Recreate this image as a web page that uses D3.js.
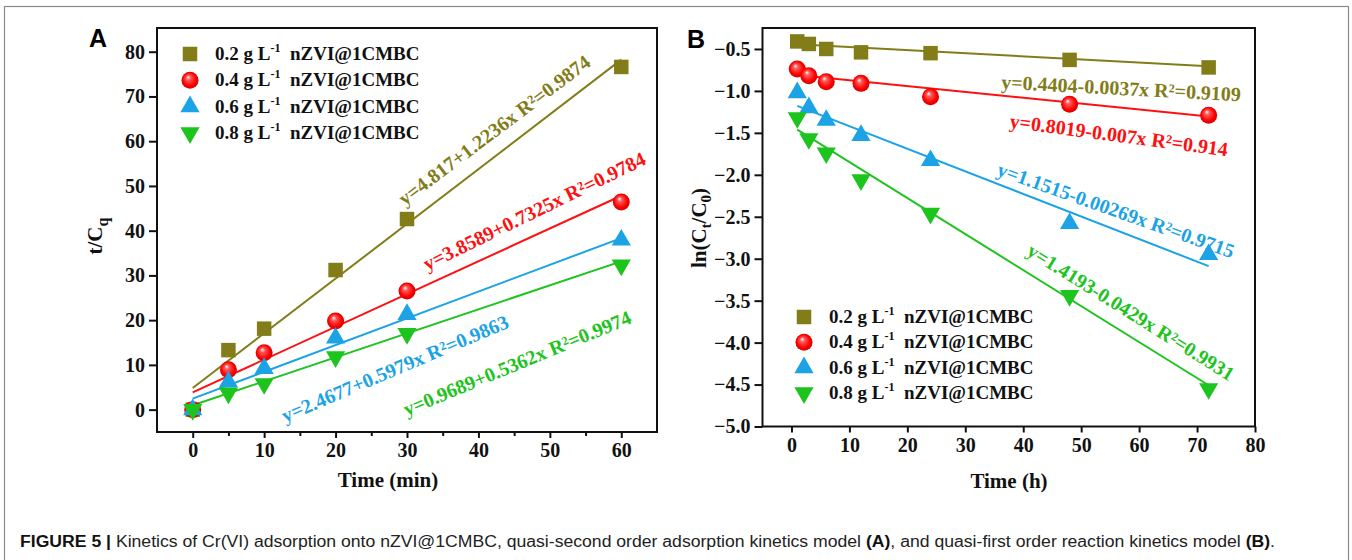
<!DOCTYPE html>
<html>
<head>
<meta charset="utf-8">
<script src="https://cdn.jsdelivr.net/npm/d3@7"></script>
<style>
  html, body { margin: 0; padding: 0; background: #fff; }
  svg { display: block; }
  .axis-title { font-family: "Liberation Serif", "Times New Roman", serif; font-weight: bold; font-size: 21px; fill: #111; }
  .legend-text { font-family: "Liberation Serif", "Times New Roman", serif; font-weight: bold; font-size: 19px; fill: #111; }
  .fit-text { font-family: "Liberation Serif", "Times New Roman", serif; font-weight: bold; font-size: 20px; }
  .panel-tag { font-family: "Liberation Sans", Arial, sans-serif; font-weight: bold; font-size: 25px; fill: #000; }
  .caption { font-family: "Liberation Sans", Arial, sans-serif; font-size: 16px; fill: #222; }
</style>
</head>
<body>
<svg id="fig" width="1352" height="560"></svg>
<script>
// ---- data ----
const doses = ["0.2", "0.4", "0.6", "0.8"];
const seriesColors = ["#827d18", "#ff1010", "#1ba3e6", "#1ec41e"];
const seriesShapes = ["square", "circle", "triangle", "triangleDown"];

// Panel A: pseudo-second-order, t/Cq vs time (min)
const timeA = [0, 5, 10, 20, 30, 60];
const tqA_02 = [0, 13.3, 18.1, 31.2, 42.6, 76.6];
const tqA_04 = [0, 8.9, 12.7, 19.8, 26.5, 46.4];
const tqA_06 = [0, 6.2, 9.2, 16.0, 21.3, 37.9];
const tqA_08 = [0, 3.7, 5.8, 11.8, 17.0, 32.3];
const fitA_intercept = [4.817, 3.8589, 2.4677, 0.9689];
const fitA_slope = [1.2236, 0.7325, 0.5979, 0.5362];
const fitA_labels = [
  "y=4.817+1.2236x R\u00B2=0.9874",
  "y=3.8589+0.7325x R\u00B2=0.9784",
  "y=2.4677+0.5979x R\u00B2=0.9863",
  "y=0.9689+0.5362x R\u00B2=0.9974"
];
const xTicksA = [0, 10, 20, 30, 40, 50, 60];
const xMinorA = [5, 15, 25, 35, 45, 55];
const yTicksA = [0, 10, 20, 30, 40, 50, 60, 70, 80];

// Panel B: pseudo-first-order, ln(Ct/C0) vs time (h)
const timeB = [1, 3, 6, 12, 24, 48, 72];
const lnB_02 = [-0.41, -0.44, -0.50, -0.54, -0.55, -0.63, -0.72];
const lnB_04 = [-0.74, -0.82, -0.89, -0.91, -1.07, -1.16, -1.29];
const lnB_06 = [-1.02, -1.20, -1.35, -1.53, -1.83, -2.58, -2.95];
const lnB_08 = [-1.32, -1.57, -1.74, -2.06, -2.46, -3.44, -4.55];
const fitB_intercept = [-0.4404, -0.8019, -1.1515, -1.4193];
const fitB_slope = [-0.0037, -0.007, -0.0269, -0.0429];
const fitB_labels = [
  "y=0.4404-0.0037x R\u00B2=0.9109",
  "y=0.8019-0.007x R\u00B2=0.914",
  "y=1.1515-0.00269x R\u00B2=0.9715",
  "y=1.4193-0.0429x R\u00B2=0.9931"
];
const xTicksB = [0, 10, 20, 30, 40, 50, 60, 70, 80];
const yTicksB = [-0.5, -1.0, -1.5, -2.0, -2.5, -3.0, -3.5, -4.0, -4.5, -5.0];

const seriesA = [tqA_02, tqA_04, tqA_06, tqA_08];
const seriesB = [lnB_02, lnB_04, lnB_06, lnB_08];

// ---- layout ----
const svg = d3.select("#fig");

// outer frame of the figure
svg.append("rect")
  .attr("x", 4.5).attr("y", 6.5).attr("width", 1344).attr("height", 570)
  .attr("fill", "none").attr("stroke", "#8a8a8a").attr("stroke-width", 1.2);

const defs = svg.append("defs");
const grad = defs.append("radialGradient").attr("id", "ballRed")
  .attr("cx", "0.5").attr("cy", "0.5").attr("r", "0.55")
  .attr("fx", "0.38").attr("fy", "0.3");
grad.append("stop").attr("offset", "0").attr("stop-color", "#ffffff");
grad.append("stop").attr("offset", "0.25").attr("stop-color", "#ff5a5a");
grad.append("stop").attr("offset", "0.7").attr("stop-color", "#ff0000");
grad.append("stop").attr("offset", "1").attr("stop-color", "#c40000");

function drawMarker(g, shape, color, x, y) {
  if (shape === "circle") {
    g.append("circle").attr("cx", x).attr("cy", y).attr("r", 8.5)
      .attr("fill", "url(#ballRed)");
    return;
  }
  let sym, size, rot = 0;
  if (shape === "square") { sym = d3.symbolSquare; size = 210; }
  else { sym = d3.symbolTriangle; size = 160; if (shape === "triangleDown") rot = 180; }
  g.append("path")
    .attr("d", d3.symbol().type(sym).size(size)())
    .attr("transform", `translate(${x},${y}) rotate(${rot})`)
    .attr("fill", color);
}

function frame(g, x0, y0, x1, y1) {
  g.append("rect").attr("x", x0).attr("y", y0)
    .attr("width", x1 - x0).attr("height", y1 - y0)
    .attr("fill", "none").attr("stroke", "#111").attr("stroke-width", 2);
}

function styleAxis(sel) {
  sel.attr("font-size", 20)
     .attr("font-family", "'Liberation Serif', 'Times New Roman', serif")
     .attr("font-weight", "bold");
  sel.select(".domain").remove();
  sel.selectAll(".tick line").attr("stroke", "#111").attr("stroke-width", 2);
  sel.selectAll(".tick text").attr("fill", "#111");
}

function legend(g, x, y, gap) {
  doses.forEach((d, i) => {
    const cy = y + i * gap;
    drawMarker(g, seriesShapes[i], seriesColors[i], x, cy);
    const t = g.append("text").attr("class", "legend-text")
      .attr("x", x + 25).attr("y", cy + 6);
    t.append("tspan").text(d + " g L");
    t.append("tspan").attr("font-size", 12).attr("dy", -8).text("-1");
    t.append("tspan").attr("dy", 8).text("\u00A0\u00A0nZVI@1CMBC");
  });
}

// ================= Panel A =================
const A = { x0: 157, x1: 657, y0: 28, y1: 432 };
const xA = d3.scaleLinear().domain([-5, 65]).range([A.x0, A.x1]);
const yA = d3.scaleLinear().domain([-5, 85.3]).range([A.y1, A.y0]);
const gA = svg.append("g");

gA.append("g").attr("transform", `translate(0,${A.y1})`)
  .call(d3.axisBottom(xA).tickValues(xTicksA).tickSize(6).tickPadding(5).tickFormat(d3.format("d")))
  .call(styleAxis);
gA.append("g").attr("transform", `translate(0,${A.y1})`)
  .call(d3.axisBottom(xA).tickValues(xMinorA).tickSize(4).tickFormat(""))
  .call(styleAxis);
gA.append("g").attr("transform", `translate(${A.x0},0)`)
  .call(d3.axisLeft(yA).tickValues(yTicksA).tickSize(8).tickPadding(4).tickFormat(d3.format("d")))
  .call(styleAxis);
frame(gA, A.x0, A.y0, A.x1, A.y1);

// fitted lines
seriesA.forEach((vals, i) => {
  const xs = [timeA[0], timeA[timeA.length - 1]];
  gA.append("path")
    .datum(xs.map(t => [t, fitA_intercept[i] + fitA_slope[i] * t]))
    .attr("d", d3.line().x(d => xA(d[0])).y(d => yA(d[1])))
    .attr("stroke", seriesColors[i]).attr("stroke-width", 2).attr("fill", "none");
});
// data points
seriesA.forEach((vals, i) => {
  vals.forEach((v, j) => drawMarker(gA, seriesShapes[i], seriesColors[i], xA(timeA[j]), yA(v)));
});

// equation labels (anchored in data units)
const fitA_anchor = [[42.2, 62.5, -37], [47.8, 44.4, -26], [28.3, 9.2, -23], [45.4, 10.4, -22.5]];
fitA_labels.forEach((s, i) => {
  const [ax, ay, ang] = fitA_anchor[i];
  gA.append("text").attr("class", "fit-text")
    .attr("text-anchor", "middle").attr("dominant-baseline", "central")
    .attr("transform", `translate(${xA(ax)},${yA(ay)}) rotate(${ang})`)
    .attr("fill", seriesColors[i]).text(s);
});

legend(gA, 190, 54, 26.3);

// axis titles
gA.append("text").attr("class", "axis-title").attr("text-anchor", "middle")
  .attr("x", 388).attr("y", 487).text("Time (min)");
const tA = gA.append("text").attr("class", "axis-title").attr("text-anchor", "middle")
  .attr("transform", "translate(102,236) rotate(-90)");
tA.append("tspan").text("t/C");
tA.append("tspan").attr("font-size", 16).attr("dy", 6).text("q");

gA.append("text").attr("class", "panel-tag").attr("x", 89).attr("y", 47).text("A");

// ================= Panel B =================
const B = { x0: 762.5, x1: 1255, y0: 28, y1: 426.5 };
const xB = d3.scaleLinear().domain([-5, 80]).range([B.x0, B.x1]);
const yB = d3.scaleLinear().domain([-5, -0.25]).range([B.y1, B.y0]);
const gB = svg.append("g");

gB.append("g").attr("transform", `translate(0,${B.y1})`)
  .call(d3.axisBottom(xB).tickValues(xTicksB).tickSize(6).tickPadding(5).tickFormat(d3.format("d")))
  .call(styleAxis);
gB.append("g").attr("transform", `translate(${B.x0},0)`)
  .call(d3.axisLeft(yB).tickValues(yTicksB).tickSize(8).tickPadding(4).tickFormat(d3.format(".1f")))
  .call(styleAxis);
frame(gB, B.x0, B.y0, B.x1, B.y1);

seriesB.forEach((vals, i) => {
  const xs = [timeB[0], timeB[timeB.length - 1]];
  gB.append("path")
    .datum(xs.map(t => [t, fitB_intercept[i] + fitB_slope[i] * t]))
    .attr("d", d3.line().x(d => xB(d[0])).y(d => yB(d[1])))
    .attr("stroke", seriesColors[i]).attr("stroke-width", 2).attr("fill", "none");
});
seriesB.forEach((vals, i) => {
  vals.forEach((v, j) => drawMarker(gB, seriesShapes[i], seriesColors[i], xB(timeB[j]), yB(v)));
});

const fitB_anchor = [[56.9, -0.965, 3], [56.5, -1.525, 7.5], [56.0, -2.42, 19.5], [58.6, -3.635, 32]];
fitB_labels.forEach((s, i) => {
  const [ax, ay, ang] = fitB_anchor[i];
  gB.append("text").attr("class", "fit-text")
    .attr("text-anchor", "middle").attr("dominant-baseline", "central")
    .attr("transform", `translate(${xB(ax)},${yB(ay)}) rotate(${ang})`)
    .attr("fill", seriesColors[i]).text(s);
});

legend(gB, 804, 317, 25.3);

gB.append("text").attr("class", "axis-title").attr("text-anchor", "middle")
  .attr("x", 1009).attr("y", 488).text("Time (h)");
const tB = gB.append("text").attr("class", "axis-title").attr("text-anchor", "middle")
  .attr("transform", "translate(706,228) rotate(-90)");
tB.append("tspan").text("ln(C");
tB.append("tspan").attr("font-size", 15).attr("dy", 5).text("t");
tB.append("tspan").attr("dy", -5).text("/C");
tB.append("tspan").attr("font-size", 15).attr("dy", 5).text("0");
tB.append("tspan").attr("dy", -5).text(")");

gB.append("text").attr("class", "panel-tag").attr("x", 687).attr("y", 48).text("B");

// ================= caption =================
const cap = svg.append("text").attr("class", "caption").attr("x", 20).attr("y", 547)
  .attr("textLength", 1255).attr("lengthAdjust", "spacingAndGlyphs");
cap.append("tspan").attr("font-weight", "bold").attr("fill", "#111").text("FIGURE 5 | ");
cap.append("tspan").text("Kinetics of Cr(VI) adsorption onto nZVI@1CMBC, quasi-second order adsorption kinetics model ");
cap.append("tspan").attr("font-weight", "bold").attr("fill", "#111").text("(A)");
cap.append("tspan").text(", and quasi-first order reaction kinetics model ");
cap.append("tspan").attr("font-weight", "bold").attr("fill", "#111").text("(B)");
cap.append("tspan").text(".");
</script>
</body>
</html>
